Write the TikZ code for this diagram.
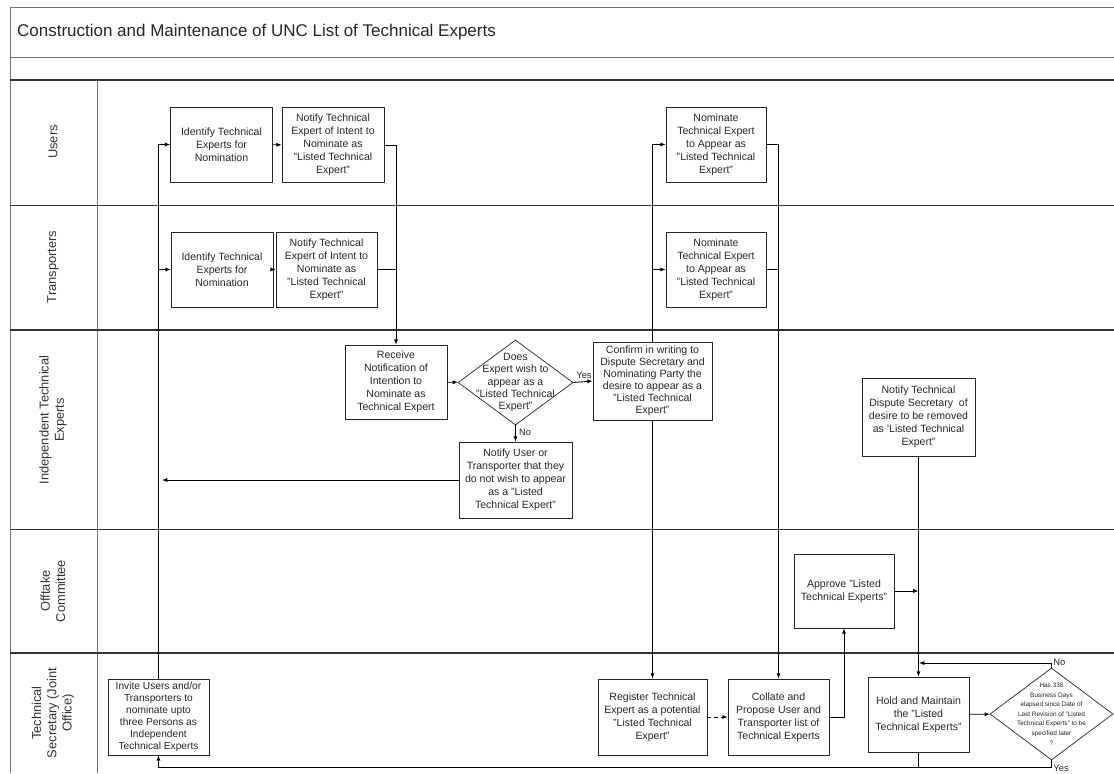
\documentclass[tikz,border=0pt]{standalone}
\usepackage{fontspec}
\setmainfont{Liberation Sans}
\usetikzlibrary{arrows.meta,shapes.geometric}
\definecolor{lanegray}{rgb}{0.45,0.45,0.45}
\tikzset{
  procbox/.style={draw=black!85, line width=0.6pt, fill=white, align=center, inner sep=1pt,
    text=black!85, font=\fontsize{9}{11}\selectfont, minimum width=3.06cm, minimum height=2.25cm},
  decision/.style={draw=black!85, line width=0.6pt, diamond, inner sep=0pt},
  dectext/.style={align=center, text=black!85, inner sep=0pt},
  flow/.style={line width=0.7pt, -{Latex[length=4.5pt,width=3.5pt]}},
  link/.style={line width=0.7pt},
  lanelabel/.style={rotate=90, align=center, font=\fontsize{11}{13}\selectfont, text=black!80},
  smalllabel/.style={font=\fontsize{8}{9}\selectfont, inner sep=1pt, text=black!85},
}

\begin{document}
\begin{tikzpicture}[x=0.03cm, y=-0.03cm]
    \useasboundingbox (0,0) rectangle (1114,773);

    % outer frame and title rows
    \draw[lanegray, line width=0.6pt] (1114,7) -- (10,7) -- (10,773);
    \draw[lanegray, line width=0.6pt] (10,57) -- (1114,57);
    \draw[lanegray, line width=0.6pt] (97,80) -- (97,773);
    \node[anchor=west, font=\fontsize{14.5}{16}\selectfont, text=black!85] (title) at (13,32)
        {Construction and Maintenance of UNC List of Technical Experts};

    % lane separators
    \foreach \y/\w in {80/1.2pt, 205/0.6pt, 330/1.2pt, 529/0.6pt, 653/1.2pt}
    \draw[line width=\w, black!80] (10,\y) -- (1114,\y);

    % lane names
    \foreach \y/\name in {142/Users, 267/Transporters, 420/{Independent Technical\\Experts},
                          591/{Offtake\\Committee}, 713/{Technical\\Secretary (Joint\\Office)}}
    \node[lanelabel] (lane\y) at (53,\y) {\name};

    % Users
    \node[procbox] (u1) at (221.5,144.5) {Identify Technical\\Experts for\\Nomination};
    \node[procbox] (u2) at (333,145) {Notify Technical\\Expert of Intent to\\Nominate as\\"Listed Technical\\Expert"};
    \node[procbox, minimum width=3cm] (u3) at (716,144.5) {Nominate\\Technical Expert\\to Appear as\\"Listed Technical\\Expert"};

    % Transporters
    \node[procbox] (t1) at (222,269.5) {Identify Technical\\Experts for\\Nomination};
    \node[procbox, minimum width=3.03cm] (t2) at (326.5,269.5) {Notify Technical\\Expert of Intent to\\Nominate as\\"Listed Technical\\Expert"};
    \node[procbox, minimum width=3cm] (t3) at (716,269.5) {Nominate\\Technical Expert\\to Appear as\\"Listed Technical\\Expert"};

    % Independent Technical Experts
    \node[procbox, minimum height=2.22cm] (receive) at (396,382) {Receive\\Notification of\\Intention to\\Nominate as\\Technical Expert};
    \node[decision, minimum width=3.45cm, minimum height=2.55cm] (dec1) at (515.5,382.5) {};
    \node[dectext, font=\fontsize{9}{10.6}\selectfont] (dec1txt) at (dec1) {Does\\Expert wish to\\appear as a\\"Listed Technical\\Expert"};
    \node[procbox, minimum width=3.57cm, minimum height=2.34cm, font=\fontsize{9}{10.3}\selectfont] (confirm) at (652.5,381) {Confirm in writing to\\Dispute Secretary and\\Nominating Party the\\desire to appear as a\\"Listed Technical\\Expert"};
    \node[procbox, minimum width=3.39cm, minimum height=2.28cm] (notifyno) at (515.5,480) {Notify User or\\Transporter that they\\do not wish to appear\\as a "Listed\\Technical Expert"};
    \node[procbox, minimum width=3.39cm, minimum height=2.34cm] (notifyrem) at (918.5,417) {Notify Technical\\Dispute Secretary~ of\\desire to be removed\\as 'Listed Technical\\Expert''};

    % Offtake Committee
    \node[procbox, minimum width=3cm, minimum height=2.22cm] (approve) at (844,591) {Approve "Listed\\Technical Experts"};

    % Technical Secretary (Joint Office)
    \node[procbox, minimum width=3.03cm, minimum height=2.28cm, font=\fontsize{8.7}{10.3}\selectfont] (invite) at (158.5,717) {Invite Users and/or\\Transporters to\\nominate upto\\three Persons as\\Independent\\Technical Experts};
    \node[procbox, minimum width=3.27cm, minimum height=2.28cm] (register) at (652.5,717) {Register Technical\\Expert as a potential\\"Listed Technical\\Expert"};
    \node[procbox, minimum width=3.03cm, minimum height=2.28cm] (collate) at (778.5,717) {Collate and\\Propose User and\\Transporter list of\\Technical Experts};
    \node[procbox, minimum width=3.03cm] (hold) at (918.5,714.5) {Hold and Maintain\\the "Listed\\Technical Experts"};
    \node[decision, minimum width=3.69cm, minimum height=2.76cm] (dec2) at (1051.5,714) {};
    \node[dectext, font=\fontsize{5.5}{8.2}\selectfont] (dec2txt) at (dec2) {Has 338\\Business Days\\elapsed since Date of\\Last Revision of "Listed\\Technical Experts" to be\\specified later\\?};

    % return points
    \coordinate (noloop) at (919,663);
    \coordinate (retrow) at (158.5,767);

    % nominations by users and transporters
    \draw[flow] (invite.north) |- (u1.west);
    \draw[flow] (invite.north |- t1.west) -- (t1.west);
    \draw[flow] (u1) -- (u2);
    \draw[flow] (t1) -- (t2);
    \draw[flow] (u2.east) -| (receive.north);
    \draw[link] (t2.east) -- (t2.east -| receive.north);

    % expert's decision
    \draw[flow] (receive) -- (dec1);
    \draw[flow] (dec1.east) -- (confirm.west);
    \node[smalllabel] (yes1) at (584,375) {Yes};
    \draw[flow] (dec1.south) -- (notifyno.north);
    \node[smalllabel] (no1) at (525,432) {No};
    \draw[flow, shorten >=3pt] (notifyno.west) -- (notifyno.west -| invite.north);

    % confirmed nomination
    \draw[flow] (confirm.north) |- (u3.west);
    \draw[flow] (confirm.north |- t3.west) -- (t3.west);
    \draw[flow] (confirm) -- (register);
    \draw[flow] (u3.east) -| (collate.north);
    \draw[link] (t3.east) -- (t3.east -| collate.north);
    \draw[flow, dashed] (register) -- (collate);
    \draw[flow] (collate.east) -| (approve.south);
    \draw[flow] (approve.east) -- (approve.east -| hold.north);
    \draw[flow] (notifyrem) -- (hold);

    % review loop
    \draw[flow] (hold) -- (dec2);
    \draw[flow] (dec2.north) |- (noloop);
    \node[smalllabel, anchor=west] (no2) at (1052,662) {No};
    \draw[flow] (dec2.south) |- (retrow) -- (invite.south);
    \node[smalllabel, anchor=west] (yes2) at (1052,768) {Yes};
    \draw[link] (hold.south) -- (hold.south |- retrow);
\end{tikzpicture}
\end{document}
